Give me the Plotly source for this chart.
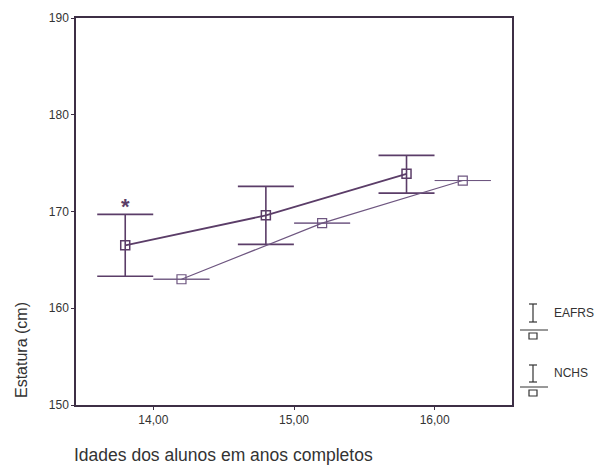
import plotly.graph_objects as go

# Data
eafrs_age = [13.8, 14.8, 15.8]
eafrs_mean = [166.5, 169.6, 173.9]
eafrs_upper = [169.7, 172.6, 175.8]
eafrs_lower = [163.3, 166.6, 171.9]

nchs_age = [14.2, 15.2, 16.2]
nchs_mean = [163.0, 168.8, 173.2]

x_ticks = [14, 15, 16]
x_ticklabels = ["14,00", "15,00", "16,00"]
y_ticks = [150, 160, 170, 180, 190]

C1 = "#5b3d68"
C2 = "#6e5680"
TXT = "#333333"
FONT = "Liberation Sans, Arial, sans-serif"

L, R, T, B = 76, 87, 18, 63
W, H = 599 - L - R, 468 - T - B

def px(x):
    return (x - L) / W

def py(y):
    return (468 - B - y) / H

fig = go.Figure()

fig.add_trace(go.Scatter(
    x=eafrs_age, y=eafrs_mean, mode="lines+markers", name="EAFRS",
    line=dict(color=C1, width=1.8),
    marker=dict(symbol="square-open", size=9, color=C1, line=dict(width=1.5)),
    error_y=dict(type="data", symmetric=False,
                 array=[u - m for u, m in zip(eafrs_upper, eafrs_mean)],
                 arrayminus=[m - l for m, l in zip(eafrs_mean, eafrs_lower)],
                 color=C1, thickness=1.6, width=28),
))

fig.add_trace(go.Scatter(
    x=nchs_age, y=nchs_mean, mode="lines+markers", name="NCHS",
    line=dict(color=C2, width=1.2),
    marker=dict(symbol="square-open", size=9, color=C2, line=dict(width=1.2)),
    error_y=dict(type="data", array=[0, 0, 0], color=C2, thickness=1.0, width=28),
))

# asterisk over first EAFRS point
fig.add_annotation(x=eafrs_age[0], y=eafrs_upper[0], text="<b>*</b>", showarrow=False,
                   yshift=8, font=dict(size=22, color=C1, family=FONT))

# custom legend
def legend_icon(ytop, ybot, yline, ysq, label, ytext):
    xs = 533
    ln = dict(color="#333", width=1.2)
    fig.add_shape(type="line", xref="paper", yref="paper", x0=px(xs), x1=px(xs),
                  y0=py(ytop), y1=py(ybot), line=ln)
    fig.add_shape(type="line", xref="paper", yref="paper", x0=px(xs - 4), x1=px(xs + 4),
                  y0=py(ytop), y1=py(ytop), line=ln)
    fig.add_shape(type="line", xref="paper", yref="paper", x0=px(xs - 4), x1=px(xs + 4),
                  y0=py(ybot), y1=py(ybot), line=ln)
    fig.add_shape(type="line", xref="paper", yref="paper", x0=px(520), x1=px(548),
                  y0=py(yline), y1=py(yline), line=dict(color="#333", width=1))
    fig.add_shape(type="rect", xref="paper", yref="paper", x0=px(529), x1=px(537),
                  y0=py(ysq + 6), y1=py(ysq), line=ln)
    fig.add_annotation(xref="paper", yref="paper", x=px(552), y=py(ytext), text=label,
                       showarrow=False, xanchor="left", yanchor="middle",
                       font=dict(size=12, color=TXT, family=FONT))

legend_icon(304, 322, 330, 333, "EAFRS", 313)
legend_icon(365, 382, 387, 390, "NCHS", 373)

axis_common = dict(showgrid=False, zeroline=False, showline=True, mirror=True,
                   linecolor="#3d2f45", linewidth=1.5, ticks="outside", ticklen=3,
                   tickcolor="#3d2f45", tickfont=dict(size=12, color=TXT, family=FONT))

fig.update_layout(
    width=599, height=468,
    margin=dict(l=L, r=R, t=T, b=B),
    paper_bgcolor="white", plot_bgcolor="white",
    showlegend=False,
    font=dict(family=FONT, color=TXT, size=12),
    xaxis=dict(range=[13.45, 16.55], tickvals=x_ticks, ticktext=x_ticklabels, **axis_common),
    yaxis=dict(range=[150, 190], tickvals=y_ticks, **axis_common),
)

fig.add_annotation(xref="paper", yref="paper", x=px(21), y=py(350),
                   text="Estatura (cm)", textangle=-90, showarrow=False,
                   xanchor="center", yanchor="middle",
                   font=dict(size=16, color=TXT, family=FONT))
fig.add_annotation(xref="paper", yref="paper", x=px(72), y=py(467),
                   text="Idades dos alunos em anos completos", showarrow=False,
                   xanchor="left", yanchor="bottom",
                   font=dict(size=17.5, color=TXT, family=FONT))

fig.write_html("out.html", config={"displayModeBar": False},
               post_script="document.body.style.margin='0';")
